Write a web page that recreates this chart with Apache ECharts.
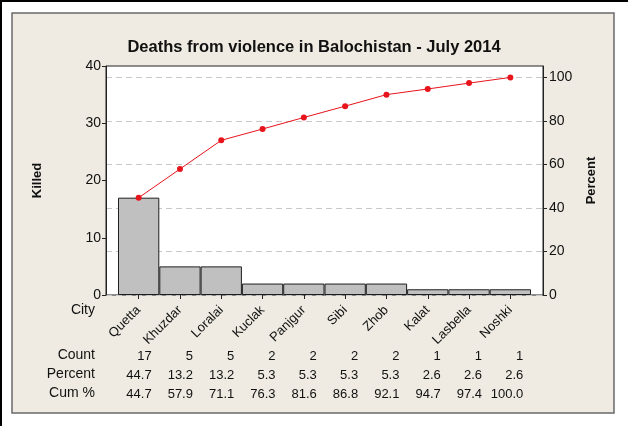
<!DOCTYPE html>
<html>
<head>
<meta charset="utf-8">
<script src="https://cdn.jsdelivr.net/npm/echarts@6/dist/echarts.min.js"></script>
<style>
html,body{margin:0;padding:0;background:#fff;}
#chart{width:628px;height:426px;}
</style>
</head>
<body>
<div id="chart"></div>
<script>
var cities = ['Quetta','Khuzdar','Loralai','Kuclak','Panjgur','Sibi','Zhob','Kalat','Lasbella','Noshki'];
var counts = [17,5,5,2,2,2,2,1,1,1];
var percents = [44.7,13.2,13.2,5.3,5.3,5.3,5.3,2.6,2.6,2.6];
var cumPercents = [44.7,57.9,71.1,76.3,81.6,86.8,92.1,94.7,97.4,100.0];
var leftTicks = [0,10,20,30,40];
var rightTicks = [0,20,40,60,80,100];
var titleText = 'Deaths from violence in Balochistan - July 2014';

var total = counts.reduce(function(a,b){return a+b;},0);
var leftMax = 40;
var rightMax = leftMax / total * 100;
var FONT = '"Liberation Sans", Arial, sans-serif';

var chart = echarts.init(document.getElementById('chart'), null, {renderer:'canvas'});

function rowAxis(values, offset, fmt){
  return {
    type:'category', gridIndex:1, position:'bottom', offset:offset,
    data: values.map(function(v){return fmt(v);}),
    boundaryGap:true,
    axisLine:{show:false}, axisTick:{show:false}, splitLine:{show:false},
    axisLabel:{
      interval:0, margin:0, fontFamily:FONT, fontSize:13, color:'#111',
      formatter:function(v){return '{v|'+v+'}';},
      rich:{v:{width:26, align:'right', fontFamily:FONT, fontSize:13, color:'#111'}}
    }
  };
}

var option = {
  backgroundColor:'#fff',
  animation:false,
  graphic:[
    {type:'rect', z:-100, shape:{x:12,y:13,width:602,height:400}, style:{fill:'#EFEBE2', stroke:'#6A6A6A', lineWidth:1.5}},
    {type:'rect', z:-100, shape:{x:0,y:0,width:628,height:2}, style:{fill:'#000'}},
    {type:'rect', z:-100, shape:{x:0,y:0,width:2,height:426}, style:{fill:'#000'}},
    {type:'text', x:95, y:310, style:{text:'City', align:'right', verticalAlign:'middle', font:'14px '+FONT, fill:'#111'}},
    {type:'text', x:95, y:355, style:{text:'Count', align:'right', verticalAlign:'middle', font:'14px '+FONT, fill:'#111'}},
    {type:'text', x:95, y:374, style:{text:'Percent', align:'right', verticalAlign:'middle', font:'14px '+FONT, fill:'#111'}},
    {type:'text', x:95, y:393, style:{text:'Cum %', align:'right', verticalAlign:'middle', font:'14px '+FONT, fill:'#111'}}
  ],
  title:{
    text:titleText, left:'center', top:34,
    textStyle:{fontFamily:FONT, fontSize:16.5, fontWeight:'bold', color:'#111'}
  },
  grid:[
    {left:106, right:85, top:66, bottom:131, show:true, backgroundColor:'#fff', borderColor:'#222', borderWidth:1, containLabel:false},
    {left:118, right:97, top:66, bottom:131, containLabel:false}
  ],
  xAxis:[
    {type:'value', gridIndex:0, min:0, max:1, show:false},
    {type:'category', gridIndex:1, data:cities, boundaryGap:true,
      axisLine:{show:false},
      axisTick:{show:true, alignWithLabel:true, length:4, lineStyle:{color:'#222'}},
      axisLabel:{interval:0, rotate:45, margin:13, fontFamily:FONT, fontSize:13, color:'#111'}
    },
    rowAxis(counts, 55, function(v){return String(v);}),
    rowAxis(percents, 74, function(v){return v.toFixed(1);}),
    rowAxis(cumPercents, 93, function(v){return v.toFixed(1);})
  ],
  yAxis:[
    {type:'value', gridIndex:0, min:0, max:leftMax, interval:10, position:'left',
      name:'Killed', nameLocation:'middle', nameGap:62, nameRotate:90,
      nameTextStyle:{fontFamily:FONT, fontSize:13, fontWeight:'bold', color:'#111'},
      axisLine:{show:true, lineStyle:{color:'#222'}},
      axisTick:{show:true, length:4, lineStyle:{color:'#222'}},
      axisLabel:{fontFamily:FONT, fontSize:14, color:'#111', margin:5},
      splitLine:{show:false}
    },
    {type:'value', gridIndex:0, min:0, max:rightMax, interval:20, position:'right',
      name:'Percent', nameLocation:'middle', nameGap:42, nameRotate:90,
      nameTextStyle:{fontFamily:FONT, fontSize:13, fontWeight:'bold', color:'#111'},
      axisLine:{show:true, lineStyle:{color:'#222'}},
      axisTick:{show:true, length:4, lineStyle:{color:'#222'}, customValues:rightTicks},
      axisLabel:{fontFamily:FONT, fontSize:14, color:'#111', margin:6, customValues:rightTicks},
      splitLine:{show:true, lineStyle:{color:'#C8C8C8', type:[6,4], width:1}}
    },
    {type:'value', gridIndex:1, min:0, max:leftMax, show:false},
    {type:'value', gridIndex:1, min:0, max:rightMax, show:false}
  ],
  series:[
    {type:'bar', xAxisIndex:1, yAxisIndex:2, data:counts, barCategoryGap:'0%',
      itemStyle:{color:'#C0C0C0', borderColor:'#1E1E1E', borderWidth:1}, silent:true},
    {type:'line', xAxisIndex:1, yAxisIndex:3, data:cumPercents, symbol:'circle', symbolSize:6,
      lineStyle:{color:'#E8141C', width:1}, itemStyle:{color:'#E8141C'}, silent:true}
  ]
};
chart.setOption(option);
</script>
</body>
</html>
